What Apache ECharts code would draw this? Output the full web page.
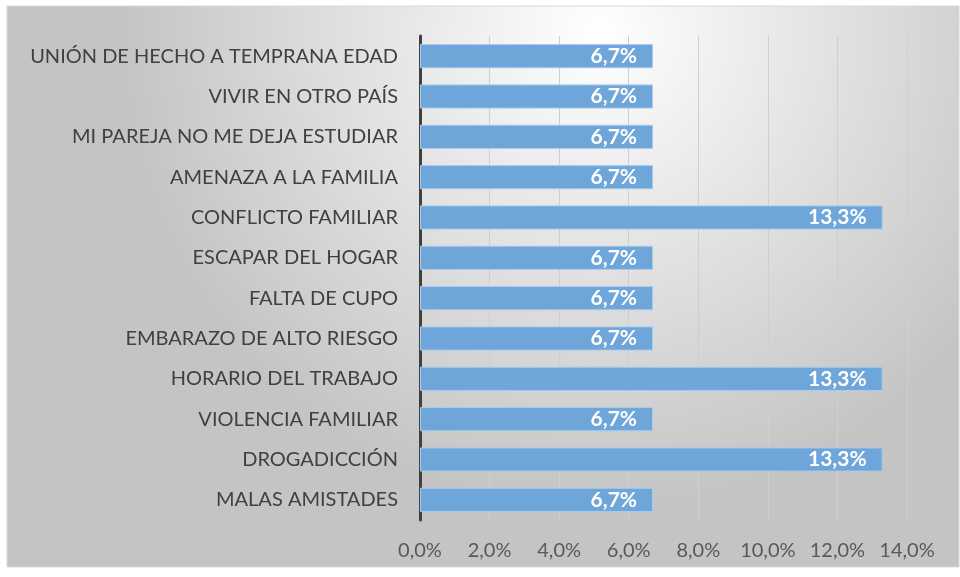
<!DOCTYPE html>
<html>
<head>
<meta charset="utf-8">
<script src="https://cdn.jsdelivr.net/npm/echarts@6/dist/echarts.min.js"></script>
<style>html,body{margin:0;padding:0;background:#fff;}#c{width:960px;height:577px;}</style>
</head>
<body>
<div id="c"></div>
<script>
const categories = ["UNIÓN DE HECHO A TEMPRANA EDAD","VIVIR EN OTRO PAÍS","MI PAREJA NO ME DEJA ESTUDIAR","AMENAZA A LA FAMILIA","CONFLICTO FAMILIAR","ESCAPAR DEL HOGAR","FALTA DE CUPO","EMBARAZO DE ALTO RIESGO","HORARIO DEL TRABAJO","VIOLENCIA FAMILIAR","DROGADICCIÓN","MALAS AMISTADES"];
const values = [0.067,0.067,0.067,0.067,0.133,0.067,0.067,0.067,0.133,0.067,0.133,0.067];
const tickValues = [0,0.02,0.04,0.06,0.08,0.10,0.12,0.14];

const fmt = (v, d) => (v*100).toFixed(d).replace('.', ',') + '%';
const font = 'Lato, "Open Sans", "Noto Sans", sans-serif';

const chart = echarts.init(document.getElementById('c'));
chart.setOption({
  animation: false,
  graphic: [{
    type: 'rect', z: -10, silent: true,
    shape: {x: 7, y: 6, width: 952, height: 561},
    style: {
      fill: new echarts.graphic.RadialGradient(0.62, 0.05, 0.85, [
        {offset: 0, color: '#ffffff'},
        {offset: 1, color: '#c4c4c4'}
      ]),
      stroke: '#d9d9d9', lineWidth: 1
    }
  }],
  grid: {left: 420, right: 53, top: 36, bottom: 57, containLabel: false},
  xAxis: {
    type: 'value', min: tickValues[0], max: tickValues[tickValues.length-1], interval: 0.02,
    axisLine: {show: false}, axisTick: {show: false},
    splitLine: {show: true, lineStyle: {color: '#cfcfcf', width: 1}},
    axisLabel: {formatter: v => fmt(v, 1), color: '#595959', fontSize: 20, fontFamily: font, margin: 21}
  },
  yAxis: {
    type: 'category', data: categories, inverse: true,
    axisLine: {show: true, lineStyle: {color: '#404040', width: 3}},
    axisTick: {show: false},
    axisLabel: {color: '#404040', fontSize: 20, fontFamily: font, margin: 22}
  },
  series: [{
    type: 'bar', data: values, barCategoryGap: '40%',
    itemStyle: {color: '#6fa6da', borderColor: '#a9cbec', borderWidth: 1},
    label: {
      show: true, position: 'insideRight', distance: 16,
      formatter: p => fmt(p.value, 1),
      color: '#ffffff', fontWeight: 'bold', fontSize: 21, fontFamily: font
    }
  }]
});
</script>
</body>
</html>
